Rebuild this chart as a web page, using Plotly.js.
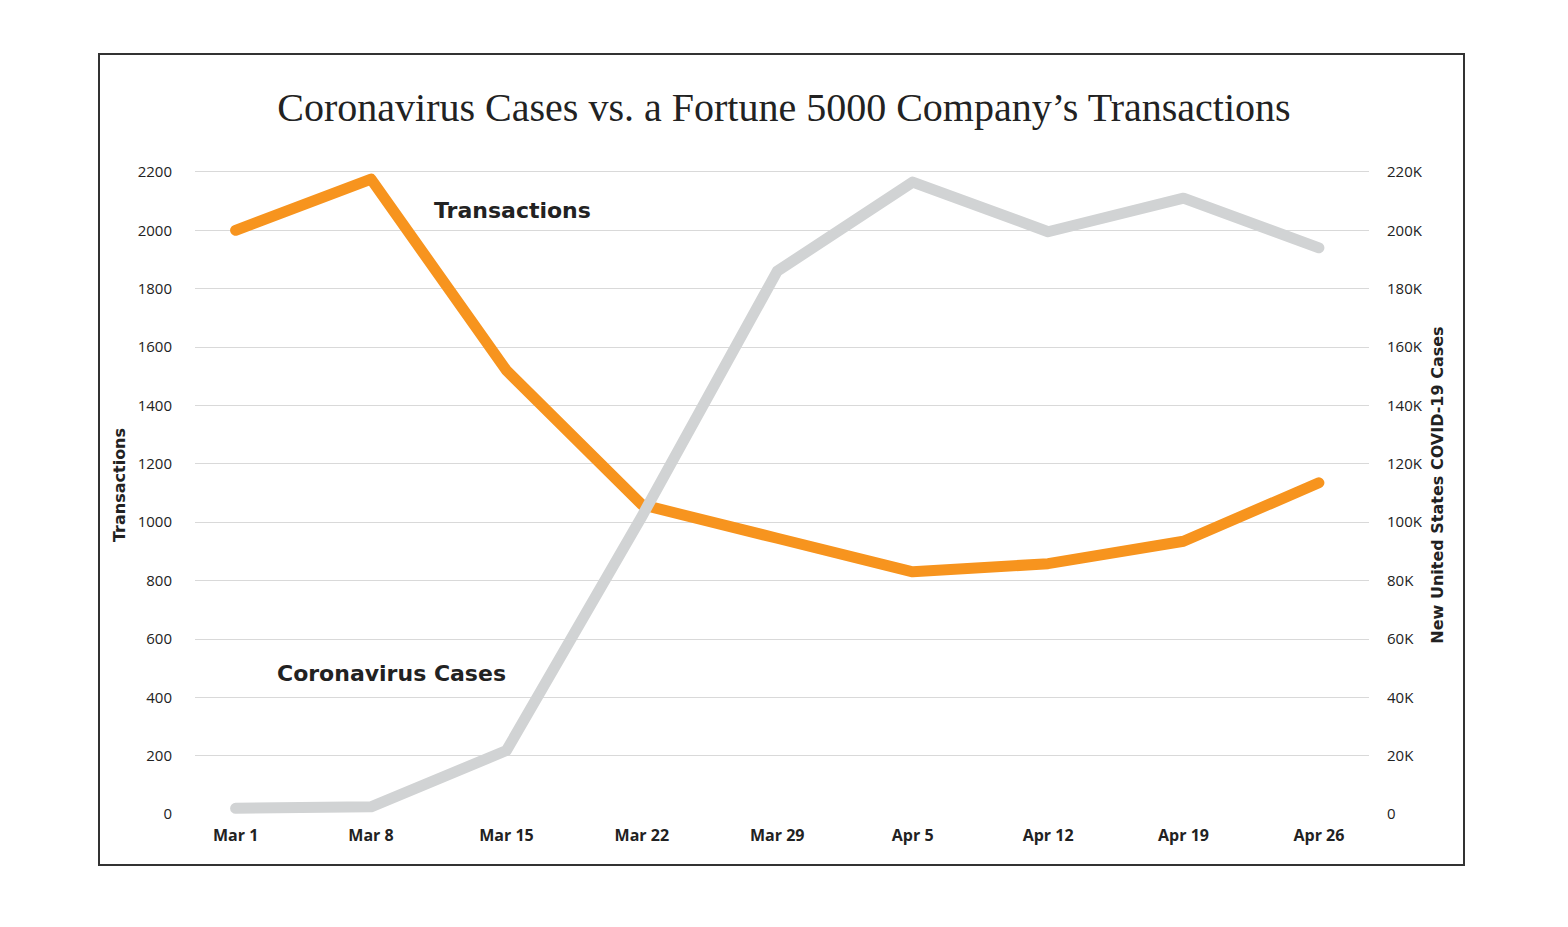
<!DOCTYPE html>
<html>
<head>
<meta charset="utf-8">
<script src="https://cdn.plot.ly/plotly-3.0.1.min.js"></script>
<style>
  html, body { margin: 0; padding: 0; background: #fff; }
  #chart { width: 1568px; height: 927px; }
  #frame { position: absolute; left: 98px; top: 53px; width: 1367px; height: 813px;
           border: 2px solid #333; box-sizing: border-box; pointer-events: none; }
  path.js-line { stroke-linecap: round !important; stroke-linejoin: round !important; }
</style>
</head>
<body>
<div id="chart"></div>
<div id="frame"></div>
<script>
const weeks = ["Mar 1", "Mar 8", "Mar 15", "Mar 22", "Mar 29", "Apr 5", "Apr 12", "Apr 19", "Apr 26"];
const transactions = [2000, 2175, 1520, 1060, 945, 830, 858, 935, 1135];
const newCases = [2000, 2500, 21800, 102000, 186000, 216500, 199500, 211000, 194000];
const leftTicks = [0, 200, 400, 600, 800, 1000, 1200, 1400, 1600, 1800, 2000, 2200];
const rightTicks = [0, 20000, 40000, 60000, 80000, 100000, 120000, 140000, 160000, 180000, 200000, 220000];
const rightTickText = ["0", "20K", "40K", "60K", "80K", "100K", "120K", "140K", "160K", "180K", "200K", "220K"];
const gridTicks = leftTicks.filter(v => v > 0);

const sans = "Open Sans, DejaVu Sans, sans-serif";
const wide = "DejaVu Sans, Open Sans, sans-serif";
const orange = "#F7941E";
const grey = "#D1D3D4";

const M = { l: 195, r: 199, t: 150, b: 107 };
const plotH = 927 - M.t - M.b;
const plotW = 1568 - M.l - M.r;
const px = (x) => (x - M.l) / plotW;
const py = (y) => (927 - M.b - y) / plotH;

const traces = [
  { x: weeks, y: transactions.map(() => null), yaxis: "y3", type: "scatter", mode: "lines",
    showlegend: false, hoverinfo: "skip" },
  {
    x: weeks, y: newCases, yaxis: "y2", type: "scatter", mode: "lines",
    name: "Coronavirus Cases", line: { color: grey, width: 11 }, hoverinfo: "x+y"
  },
  {
    x: weeks, y: transactions, yaxis: "y", type: "scatter", mode: "lines",
    name: "Transactions", line: { color: orange, width: 11 }, hoverinfo: "x+y"
  }
];

const yMin = -20, yMax = 2275;

const layout = {
  width: 1568, height: 927,
  paper_bgcolor: "#fff", plot_bgcolor: "rgba(0,0,0,0)",
  showlegend: false,
  margin: M,
  title: {
    text: "Coronavirus Cases vs. a Fortune 5000 Company\u2019s Transactions",
    font: { family: "Liberation Serif, DejaVu Serif, serif", size: 40, color: "#222" },
    x: 0.5, xanchor: "center", y: 1 - 107 / 927, yanchor: "middle", yref: "container"
  },
  xaxis: {
    type: "category", range: [-0.3, 8.37],
    showgrid: false, zeroline: false, showline: false, ticks: "",
    tickfont: { family: sans, size: 16, color: "#222", weight: "bold" },
    ticklabelstandoff: 4
  },
  yaxis: {
    range: [yMin, yMax], tickvals: leftTicks, ticktext: leftTicks.map(String),
    showgrid: false, zeroline: false, showline: false, ticks: "",
    ticklabelstandoff: 22,
    tickfont: { family: sans, size: 15, color: "#222" },
    title: { text: "Transactions", font: { family: wide, size: 16, color: "#222", weight: "bold" }, standoff: 8 }
  },
  yaxis2: {
    overlaying: "y", side: "right",
    range: [yMin * 100, yMax * 100], tickvals: rightTicks, ticktext: rightTickText,
    showgrid: false, zeroline: false, showline: false, ticks: "",
    ticklabelstandoff: 17,
    tickfont: { family: sans, size: 15, color: "#222" },
    title: { text: "New United States COVID-19 Cases", font: { family: wide, size: 16, color: "#222", weight: "bold" }, standoff: 10 }
  },
  yaxis3: {
    overlaying: "y", side: "left", range: [yMin, yMax], tickvals: gridTicks,
    showticklabels: false, showgrid: true, gridcolor: "#D9D9D9", gridwidth: 1,
    zeroline: false, showline: false, ticks: "", layer: "below traces"
  },
  annotations: [
    {
      text: "Transactions", xref: "paper", yref: "paper",
      x: px(512), y: py(210), xanchor: "center", yanchor: "middle",
      showarrow: false, font: { family: wide, size: 22, color: "#222", weight: "bold" }
    },
    {
      text: "Coronavirus Cases", xref: "paper", yref: "paper",
      x: px(391), y: py(673), xanchor: "center", yanchor: "middle",
      showarrow: false, font: { family: wide, size: 22, color: "#222", weight: "bold" }
    }
  ]
};

Plotly.newPlot("chart", traces, layout, { displayModeBar: false, staticPlot: true });
</script>
</body>
</html>
